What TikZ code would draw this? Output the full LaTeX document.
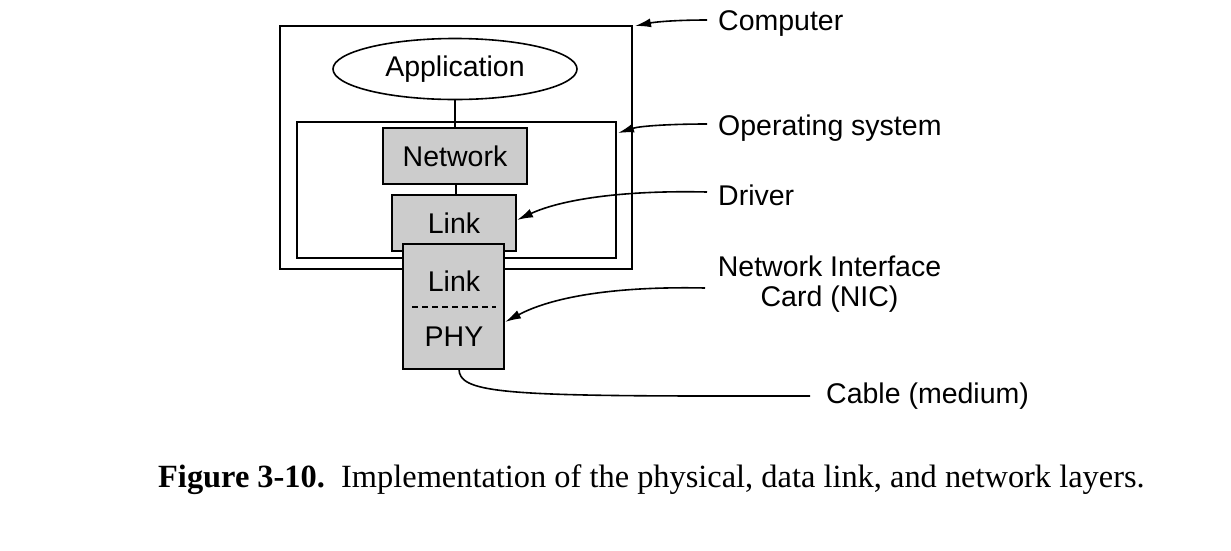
\documentclass[tikz,border=0pt]{standalone}
\usepackage{fontspec}
\setmainfont{Liberation Sans}
\newfontfamily\capfont{Liberation Serif}
\usetikzlibrary{shapes.geometric,arrows.meta}
\begin{document}
\begin{tikzpicture}[x=1pt,y=-1pt,
  every node/.style={font=\fontsize{28.5}{33}\selectfont},
  frame/.style={draw, line width=1.6pt, rectangle, inner sep=0pt},
  layer/.style={draw, line width=1.6pt, rectangle, fill=black!20, inner sep=0pt},
  wire/.style={line width=1.6pt},
  pointer/.style={line width=1.6pt, -{Latex[length=16pt,width=9pt]}},
  lbl/.style={anchor=west, inner sep=0pt}]
\useasboundingbox (0,0) rectangle (1231,550);
% frames
\node[frame, minimum width=352pt, minimum height=243pt] (comp) at (456,147.5) {};
\node[frame, minimum width=319pt, minimum height=136pt] (os) at (456.5,190) {};
\node[draw, line width=1.6pt, ellipse, minimum width=244pt, minimum height=61pt, inner sep=0pt] (app) at (455,69) {Application};
\node[layer, minimum width=144pt, minimum height=56pt] (net) at (455,156) {Network};
\node[layer, minimum width=124pt, minimum height=56pt] (drv) at (454,223) {Link};
\node[layer, minimum width=101pt, minimum height=125pt] (nic) at (453.5,306.5) {};
\node[inner sep=0pt] (niclink) at (454,281) {Link};
\node[inner sep=0pt] (phy) at (454,337) {PHY};
\draw[wire, dashed, dash pattern=on 6pt off 4pt] (412,307) -- (496,307);
% connections
\draw[wire] (app.south) -- (app.south |- net.north);
\draw[wire] (456,184) -- (456,195);
% labels
\node[lbl] (lcomp) at (718,24) {Computer};
\node[lbl] (los) at (718,128) {Operating system};
\node[lbl] (ldrv) at (718,195) {Driver};
\node[align=center, inner sep=0pt] (lnic) at (829.5,284) {Network Interface\\[-3pt]Card (NIC)};
\node[lbl] (lcab) at (826,396) {Cable (medium)};
\coordinate (pc) at (707,20);
\coordinate (po) at (707,124);
\coordinate (pd) at (707,192);
\coordinate (pn) at (705,288);
\coordinate (tc) at (635,26);
\coordinate (to) at (618,133);
\coordinate (td) at (517,220);
\coordinate (tn) at (505,322);
\draw[pointer] (pc) .. controls (675,20) and (655,22) .. (tc);
\draw[pointer] (po) .. controls (670,124) and (640,126) .. (to);
\draw[pointer] (pd) .. controls (620,190) and (560,200) .. (td);
\draw[pointer] (pn) .. controls (610,286) and (550,298) .. (tn);
\coordinate (cs) at (459,369);
\coordinate (ce) at (810,396);
\draw[wire] (cs) .. controls (459,392) and (500,396) .. (720,396) -- (ce);
% caption
\node[anchor=west, inner sep=0pt, font=\capfont\fontsize{32.4}{38}\selectfont] (cap) at (158,480) {\textbf{Figure 3-10.}\hspace{0.5em}Implementation of the physical, data link, and network layers.};
\end{tikzpicture}
\end{document}
